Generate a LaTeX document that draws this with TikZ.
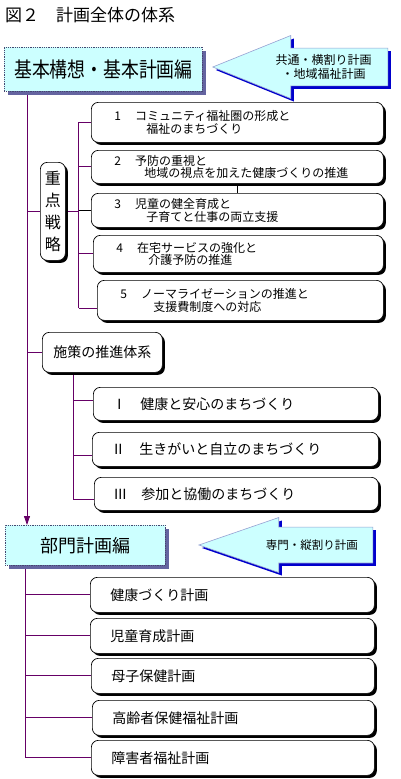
\documentclass[tikz,border=0pt]{standalone}
\usepackage{fontspec}
\setmainfont{Noto Sans CJK JP}
\newfontfamily\tallfont[FakeStretch=0.85]{Noto Sans CJK JP}
\usetikzlibrary{arrows.meta, positioning, calc, shadows, shapes.arrows, backgrounds}
\definecolor{skyfill}{RGB}{204,255,255}
\definecolor{trunkline}{RGB}{102,0,102}
\definecolor{navyshade}{RGB}{100,100,160}
\definecolor{flagshade}{RGB}{0,0,204}
\definecolor{flagedge}{RGB}{150,160,210}

\begin{document}
\begin{tikzpicture}[x=1pt, y=-1pt,
  plan/.style={draw=navyshade!70!black, densely dotted, line width=0.8pt, fill=skyfill,
    anchor=north west, inner sep=0pt,
    drop shadow={shadow xshift=3.5pt, shadow yshift=-3.5pt, fill=navyshade, opacity=1}},
  item/.style={draw, fill=white, rounded corners=7pt, anchor=north west, align=left,
    line width=0.7pt, inner ysep=0pt,
    drop shadow={shadow xshift=2.5pt, shadow yshift=-2.5pt, fill=black, opacity=1}},
  stratbox/.style={item, inner xsep=23pt, text width=246pt,
    font=\fontsize{12pt}{12.5pt}\selectfont},
  pbox/.style={item, inner xsep=19pt, text width=247pt, minimum height=34pt,
    font=\fontsize{14pt}{14pt}\selectfont},
  dbox/.style={item, inner xsep=20pt, text width=244pt, minimum height=35pt,
    font=\fontsize{14pt}{14pt}\selectfont},
  flag/.style={single arrow, shape border rotate=180, draw=flagedge, fill=skyfill,
    line width=0.6pt, anchor=tip, single arrow head indent=0pt, align=center,
    drop shadow={shadow xshift=3pt, shadow yshift=-3pt, fill=flagshade, opacity=1}},
  link/.style={draw=trunkline, line width=0.8pt},
  >={Triangle[width=6pt, length=9pt]}]

  \begin{scope}[on background layer]
    \fill[white] (0,0) rectangle (400,779);
  \end{scope}
  \useasboundingbox (0,0) rectangle (400,779);

  \node[anchor=west, inner sep=0pt, font=\fontsize{17pt}{17pt}\selectfont] (title) at (5,15)
    {図２　計画全体の体系};

  % upper part
  \node[plan, minimum width=198pt, minimum height=44pt,
    font=\tallfont\fontsize{21pt}{21pt}\selectfont] (base) at (4,47) {基本構想・基本計画編};
  \node[flag, minimum height=175pt, minimum width=63pt, single arrow head extend=12.5pt,
    single arrow tip angle=44, inner ysep=6pt,
    font=\fontsize{12pt}{14pt}\selectfont] (common) at (212,67)
    {共通・横割り計画\\・地域福祉計画};

  \node[item, align=center, inner xsep=0pt, minimum width=25pt, minimum height=98pt,
    font=\fontsize{16pt}{22pt}\selectfont] (key) at (40,162) {重\\点\\戦\\略};

  \node[stratbox, minimum height=40pt] (s1) at (91,102)
    {1\hspace{14pt}コミュニティ福祉圏の形成と\\\hspace*{32pt}福祉のまちづくり};
  \node[stratbox, minimum height=33pt] (s2) at (91,150)
    {2\hspace{14pt}予防の重視と\\\hspace*{30pt}地域の視点を加えた健康づくりの推進};
  \node[stratbox, minimum height=34pt] (s3) at (91,193)
    {3\hspace{14pt}児童の健全育成と\\\hspace*{32pt}子育てと仕事の両立支援};
  \node[stratbox, minimum height=37pt, text width=244pt] (s4) at (93,235)
    {4\hspace{14pt}在宅サービスの強化と\\\hspace*{32pt}介護予防の推進};
  \node[stratbox, minimum height=40pt, text width=240pt] (s5) at (97,280)
    {5\hspace{14pt}ノーマライゼーションの推進と\\\hspace*{33pt}支援費制度への対応};

  \node[item, align=center, minimum width=120pt, minimum height=40pt,
    font=\fontsize{14pt}{14pt}\selectfont] (measure) at (42,332) {施策の推進体系};

  \node[pbox, minimum height=33pt] (p1) at (93,387) {Ⅰ　健康と安心のまちづくり};
  \node[pbox, text width=248pt] (p2) at (92,432) {Ⅱ　生きがいと自立のまちづくり};
  \node[pbox, minimum height=33pt, text width=246pt] (p3) at (94,477) {Ⅲ　参加と協働のまちづくり};

  % lower part
  \node[plan, minimum width=160pt, minimum height=40pt,
    font=\fontsize{18pt}{18pt}\selectfont] (dept) at (5,525) {部門計画編};
  \node[flag, minimum height=174pt, minimum width=55pt, single arrow head extend=9.5pt,
    single arrow tip angle=38, inner ysep=12.25pt,
    font=\fontsize{11.5pt}{11.5pt}\selectfont] (sector) at (198,545) {専門・縦割り計画};

  \node[dbox] (d1) at (90,577) {健康づくり計画};
  \node[dbox] (d2) at (90,618) {児童育成計画};
  \node[dbox, text width=243pt] (d3) at (91,658) {母子保健計画};
  \node[dbox, text width=242pt] (d4) at (92,700) {高齢者保健福祉計画};
  \node[dbox, text width=243pt] (d5) at (91,740) {障害者福祉計画};

  \begin{scope}[on background layer]
    \coordinate (trunk) at ([xshift=23pt]base.south west);
    \draw[link, ->] (trunk) -- (trunk |- dept.north);
    \draw[link] (trunk |- key.west) -- (key.west);
    \path (key.east) ++(13,0) coordinate (bus);
    \draw[link] (key.east) -- (bus);
    \draw[link] (bus |- s1.west) -- ($(bus |- s5.west)+(0,8)$);
    \foreach \s in {s1,s2,s4} \draw[link] (bus |- \s.west) -- (\s.west);
    \draw[link] ($(bus |- s5.west)+(0,8)$) -- ($(s5.west)+(0,8)$);
    \draw[line width=1.6pt] (bus |- s3.west) -- (s3.west);
    \draw[line width=0.6pt] (s2.south) -- (s2.south |- s3.north);

    \draw[link] (trunk |- measure.west) -- (measure.west);
    \path (measure.south west) ++(31,0) coordinate (sub);
    \draw[link] (sub) -- ($(sub |- p3.west)+(0,6)$);
    \foreach \s/\d in {p1/-3, p2/6, p3/6}
      \draw[link] ($(sub |- \s.west)+(0,\d)$) -- ($(\s.west)+(0,\d)$);

    \path (dept.south west) ++(20,0) coordinate (root);
    \draw[link] (root) -- (root |- d5.west);
    \foreach \s in {d1,d2,d3,d4,d5} \draw[link] (root |- \s.west) -- (\s.west);
  \end{scope}
\end{tikzpicture}
\end{document}
